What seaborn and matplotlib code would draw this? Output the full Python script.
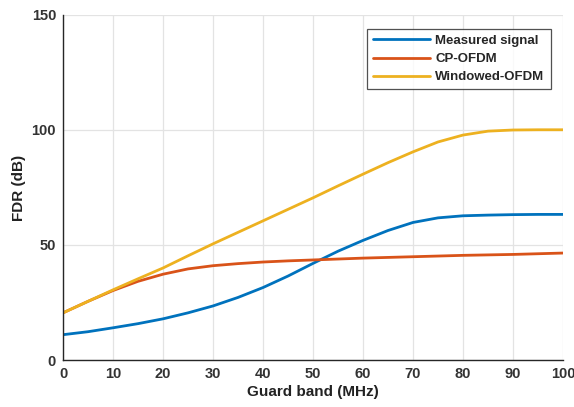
import numpy as np
import pandas as pd
import matplotlib
matplotlib.use("Agg")
import matplotlib.pyplot as plt
import seaborn as sns

guard_band = [0, 5, 10, 15, 20, 25, 30, 35, 40, 45, 50, 55, 60, 65, 70, 75, 80, 85, 90, 95, 100]
measured = [11, 12.3, 14, 15.8, 17.9, 20.5, 23.5, 27.2, 31.5, 36.5, 42, 47.3, 52, 56.3, 59.8, 61.8, 62.7, 63, 63.2, 63.3, 63.3]
cp_ofdm = [20.5, 25.5, 30.2, 34.2, 37.3, 39.6, 41, 41.9, 42.6, 43.1, 43.5, 43.9, 44.3, 44.6, 44.9, 45.2, 45.5, 45.7, 45.9, 46.2, 46.5]
windowed = [20.5, 25.5, 30.5, 35.3, 40, 45.3, 50.5, 55.5, 60.5, 65.5, 70.5, 75.7, 80.8, 85.8, 90.5, 94.8, 97.8, 99.5, 100, 100.1, 100.1]
series_names = ["Measured signal", "CP-OFDM", "Windowed-OFDM"]
x_ticks = [0, 10, 20, 30, 40, 50, 60, 70, 80, 90, 100]
y_ticks = [0, 50, 100, 150]

df = pd.concat([
    pd.DataFrame({"x": guard_band, "y": measured, "s": series_names[0]}),
    pd.DataFrame({"x": guard_band, "y": cp_ofdm, "s": series_names[1]}),
    pd.DataFrame({"x": guard_band, "y": windowed, "s": series_names[2]}),
])

sns.set_style("white")
plt.rcParams['font.family'] = ['Liberation Sans', 'DejaVu Sans']

fig = plt.figure(figsize=(5.74, 4.07), dpi=100)
ax = fig.add_axes([63/574, 1-360/407, 500/574, 345/407])
palette = {"Measured signal": "#0072BD", "CP-OFDM": "#D95319", "Windowed-OFDM": "#EDB120"}
sns.lineplot(data=df, x="x", y="y", hue="s", palette=palette, linewidth=2.0, ax=ax)

ax.set_xlim(0, 100)
ax.set_ylim(0, 150)
ax.set_xticks(x_ticks)
ax.set_yticks(y_ticks)
ax.grid(True, color="#e3e3e3", linewidth=0.9)
for side in ["top", "right"]:
    ax.spines[side].set_visible(False)
for side in ["left", "bottom"]:
    ax.spines[side].set_color("#262626")
    ax.spines[side].set_linewidth(1.0)
ax.tick_params(direction="in", length=4, width=1.0, color="#262626",
               labelsize=10.5, labelcolor="#333333", pad=5)
for lbl in ax.get_xticklabels() + ax.get_yticklabels():
    lbl.set_fontweight("bold")
ax.set_xlabel("Guard band (MHz)", fontsize=11, fontweight="bold", color="#222222", labelpad=3)
ax.set_ylabel("FDR (dB)", fontsize=11, fontweight="bold", color="#222222", labelpad=4)

leg = ax.legend(title=None, loc="upper right", bbox_to_anchor=(0.975, 0.96),
                frameon=True, fancybox=False, fontsize=9.5, handlelength=4.3,
                borderpad=0.45, labelspacing=0.45, handletextpad=0.4, borderaxespad=0)
leg.get_frame().set_edgecolor("#262626")
leg.get_frame().set_linewidth(0.9)
for t in leg.get_texts():
    t.set_fontweight("bold")
for l in leg.get_lines():
    l.set_linewidth(2.0)

fig.savefig("out.png", dpi=100)
